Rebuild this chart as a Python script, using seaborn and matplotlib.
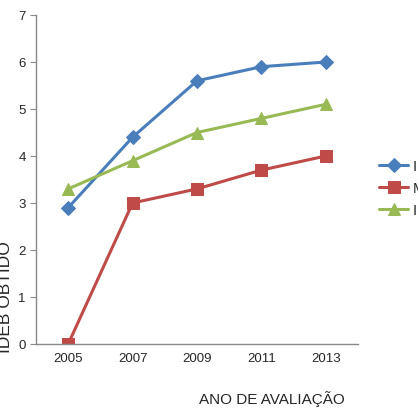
import matplotlib
matplotlib.use('Agg')
import matplotlib.pyplot as plt
import seaborn as sns
import numpy as np
import pandas as pd

anos = ['2005', '2007', '2009', '2011', '2013']
ideb_escola = [2.9, 4.4, 5.6, 5.9, 6.0]
meta = [0.0, 3.0, 3.3, 3.7, 4.0]
ideb_brasil = [3.3, 3.9, 4.5, 4.8, 5.1]
series_names = ['IDEB Escola', 'Meta', 'IDEB Brasil']

df = pd.DataFrame({'Ano': anos * 3,
                   'Valor': ideb_escola + meta + ideb_brasil,
                   'Serie': [s for s in series_names for _ in anos]})

sns.set_style('white')
plt.rcParams['font.family'] = ['Liberation Sans', 'DejaVu Sans']

fig = plt.figure(figsize=(4.18, 4.10), dpi=100)
ax = fig.add_axes([36 / 418, 65 / 410, 322 / 418, 329 / 410])

cores = {'IDEB Escola': '#4A7EBB', 'Meta': '#BE4B48', 'IDEB Brasil': '#98B954'}
marcadores = {'IDEB Escola': 'D', 'Meta': 's', 'IDEB Brasil': '^'}
tamanhos = {'IDEB Escola': 7, 'Meta': 9, 'IDEB Brasil': 9}

for s in series_names:
    sub = df[df['Serie'] == s]
    sns.lineplot(data=sub, x='Ano', y='Valor', ax=ax, color=cores[s],
                 marker=marcadores[s], markersize=tamanhos[s],
                 markeredgecolor=cores[s], linewidth=2.2, label=s,
                 sort=False)

ax.set_xlim(-0.5, len(anos) - 0.5)
ax.set_ylim(0, 7)
ax.set_yticks(range(0, 8))
ax.set_xticks(range(len(anos)))
ax.set_xticklabels(anos)
ax.set_xticks(np.arange(-0.5, len(anos), 1), minor=True)
ax.tick_params(axis='x', which='major', length=0, labelsize=9.5, pad=6)
ax.tick_params(axis='x', which='minor', length=4, color='#888888', direction='out')
ax.tick_params(axis='y', length=4, color='#888888', direction='out', labelsize=9.5, left=True)

for sp in ['top', 'right']:
    ax.spines[sp].set_visible(False)
for sp in ['left', 'bottom']:
    ax.spines[sp].set_color('#888888')
    ax.spines[sp].set_linewidth(1)

ax.set_xlabel('')
ax.set_ylabel('')
fig.text(272 / 418, 1 - 399 / 410, 'ANO DE AVALIAÇÃO', ha='center', va='center', fontsize=11)
fig.text(6 / 418, 1 - 297 / 410, 'IDEB OBTIDO', ha='center', va='center', fontsize=12.5, rotation=90)

# legend sits at the right edge, labels run off the figure as in the source
leg = ax.legend(loc='center left', bbox_to_anchor=((379 - 36) / 322, (410 - 189 - 65) / 329),
                frameon=False, fontsize=10.5, handlelength=2.0, labelspacing=0.55,
                borderpad=0, borderaxespad=0, handletextpad=0.3)

fig.savefig('out.png', dpi=100)
